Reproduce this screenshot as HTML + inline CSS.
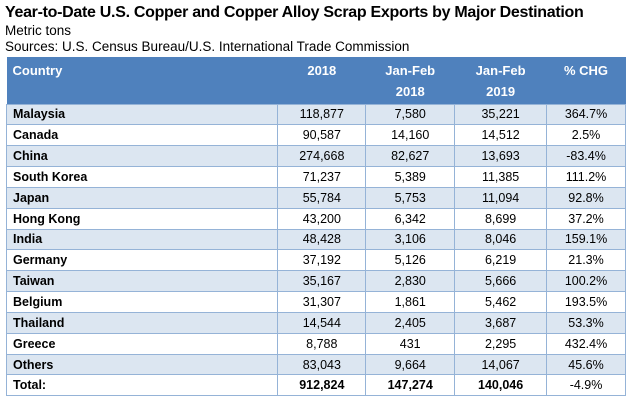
<!DOCTYPE html>
<html><head><meta charset="utf-8"><style>
body{margin:0;background:#fff;width:638px;height:400px;overflow:hidden;font-family:"Liberation Sans",sans-serif;}
.t{position:absolute;left:5px;top:4px;font-weight:bold;font-size:16px;letter-spacing:-0.3px;color:#000}
.s1{position:absolute;left:5px;top:23px;font-size:13.5px;color:#000}
.s2{position:absolute;left:5px;top:39px;font-size:13.5px;color:#000}
table{position:absolute;left:6px;top:57px;border-collapse:collapse;width:620px;font-size:12.5px;}
th{background:#4f81bd;color:#fff;font-weight:bold;height:47px;box-sizing:border-box;vertical-align:top;padding:3px 6px 0;text-align:center;font-size:13px;line-height:21px}
th:first-child{text-align:left}
td{height:19.85px;padding:0 6px;border:1px solid #95b3d7;text-align:center;color:#000}
td:first-child{text-align:left;font-weight:bold}
tr:nth-child(even) td{background:#dce6f1}
.tot td:nth-child(2),.tot td:nth-child(3),.tot td:nth-child(4){font-weight:bold}
</style></head><body>
<div class="t">Year-to-Date U.S. Copper and Copper Alloy Scrap Exports by Major Destination</div>
<div class="s1">Metric tons</div>
<div class="s2">Sources: U.S. Census Bureau/U.S. International Trade Commission</div>
<table>
<colgroup><col style="width:272px"><col style="width:88px"><col style="width:89px"><col style="width:92px"><col style="width:79px"></colgroup>
<tr><th>Country</th><th>2018</th><th>Jan-Feb<br>2018</th><th>Jan-Feb<br>2019</th><th>% CHG</th></tr>
<tr><td>Malaysia</td><td>118,877</td><td>7,580</td><td>35,221</td><td>364.7%</td></tr>
<tr><td>Canada</td><td>90,587</td><td>14,160</td><td>14,512</td><td>2.5%</td></tr>
<tr><td>China</td><td>274,668</td><td>82,627</td><td>13,693</td><td>-83.4%</td></tr>
<tr><td>South Korea</td><td>71,237</td><td>5,389</td><td>11,385</td><td>111.2%</td></tr>
<tr><td>Japan</td><td>55,784</td><td>5,753</td><td>11,094</td><td>92.8%</td></tr>
<tr><td>Hong Kong</td><td>43,200</td><td>6,342</td><td>8,699</td><td>37.2%</td></tr>
<tr><td>India</td><td>48,428</td><td>3,106</td><td>8,046</td><td>159.1%</td></tr>
<tr><td>Germany</td><td>37,192</td><td>5,126</td><td>6,219</td><td>21.3%</td></tr>
<tr><td>Taiwan</td><td>35,167</td><td>2,830</td><td>5,666</td><td>100.2%</td></tr>
<tr><td>Belgium</td><td>31,307</td><td>1,861</td><td>5,462</td><td>193.5%</td></tr>
<tr><td>Thailand</td><td>14,544</td><td>2,405</td><td>3,687</td><td>53.3%</td></tr>
<tr><td>Greece</td><td>8,788</td><td>431</td><td>2,295</td><td>432.4%</td></tr>
<tr><td>Others</td><td>83,043</td><td>9,664</td><td>14,067</td><td>45.6%</td></tr>
<tr class="tot"><td>Total:</td><td>912,824</td><td>147,274</td><td>140,046</td><td>-4.9%</td></tr>
</table>
</body></html>
